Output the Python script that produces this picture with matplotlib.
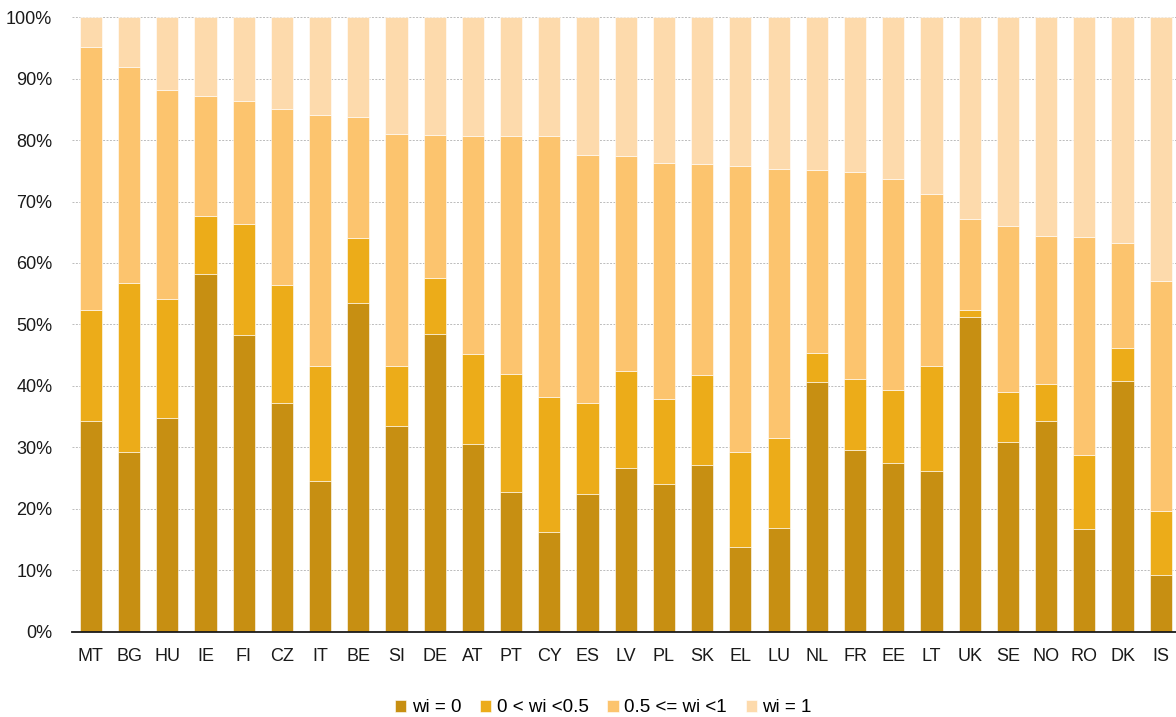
import numpy as np
import matplotlib
matplotlib.use('Agg')
import matplotlib.pyplot as plt
from matplotlib import rcParams
from matplotlib.ticker import FuncFormatter

rcParams['font.family'] = ['Liberation Sans', 'DejaVu Sans']
rcParams['font.size'] = 13

countries = ['MT', 'BG', 'HU', 'IE', 'FI', 'CZ', 'IT', 'BE', 'SI', 'DE',
             'AT', 'PT', 'CY', 'ES', 'LV', 'PL', 'SK', 'EL', 'LU', 'NL',
             'FR', 'EE', 'LT', 'UK', 'SE', 'NO', 'RO', 'DK', 'IS']

# cumulative tops (%)
top_zero = [34.3, 29.3, 34.8, 58.2, 48.3, 37.2, 24.5, 53.5, 33.4, 48.5,
            30.5, 22.8, 16.2, 22.4, 26.7, 24.1, 27.1, 13.8, 16.8, 40.6,
            29.5, 27.4, 26.1, 51.2, 30.8, 34.3, 16.7, 40.8, 9.3]
top_low = [52.4, 56.7, 54.1, 67.7, 66.3, 56.4, 43.3, 64.0, 43.3, 57.6,
           45.2, 41.9, 38.2, 37.2, 42.4, 37.9, 41.8, 29.3, 31.6, 45.4,
           41.2, 39.3, 43.2, 52.3, 39.0, 40.3, 28.8, 46.1, 19.6]
top_high = [95.1, 91.9, 88.1, 87.2, 86.4, 85.1, 84.1, 83.8, 81.0, 80.8,
            80.6, 80.6, 80.6, 77.6, 77.4, 76.3, 76.1, 75.8, 75.3, 75.1,
            74.8, 73.6, 71.2, 67.1, 66.1, 64.4, 64.2, 63.3, 57.1]

labels = ['wi = 0', '0 < wi <0.5', '0.5 <= wi <1', 'wi = 1']
colors = ['#C78F12', '#ECAC19', '#FCC46E', '#FDDAAC']

top_zero = np.array(top_zero)
top_low = np.array(top_low)
top_high = np.array(top_high)
segments = [top_zero, top_low - top_zero, top_high - top_low, 100 - top_high]

fig = plt.figure(figsize=(11.76, 7.17), dpi=100)
ax = fig.add_axes([0.061, 0.119, 0.939, 0.857])

x = np.arange(len(countries))
bottom = np.zeros(len(countries))
for seg, lab, col in zip(segments, labels, colors):
    ax.bar(x, seg, bottom=bottom, width=0.58, color=col, label=lab,
           edgecolor='white', linewidth=0.4, zorder=2)
    bottom = bottom + seg

ax.set_xlim(-0.5, len(countries) - 0.6)
ax.set_ylim(0, 100)
ax.set_yticks(np.arange(0, 101, 10))
ax.yaxis.set_major_formatter(FuncFormatter(lambda v, p: '%d%%' % v))
ax.set_xticks(x)
ax.set_xticklabels(countries)
ax.tick_params(axis='both', length=0, labelsize=13, colors='#1a1a1a')
ax.tick_params(axis='x', pad=12)
ax.tick_params(axis='y', pad=14)

ax.grid(axis='y', color='#BBBBBB', linestyle=(0, (2, 1.5)), linewidth=0.7, zorder=0)
ax.set_axisbelow(True)
for s in ['top', 'right', 'left']:
    ax.spines[s].set_visible(False)
ax.spines['bottom'].set_color('#1a1a1a')
ax.spines['bottom'].set_linewidth(1.3)
ax.spines['bottom'].set_zorder(3)

fig.legend(loc='center', bbox_to_anchor=(0.513, 0.013), ncol=4, frameon=False,
           handlelength=0.6, handleheight=0.6, handletextpad=0.3,
           columnspacing=1.0, fontsize=13.5)

fig.savefig('out.png', dpi=100)
